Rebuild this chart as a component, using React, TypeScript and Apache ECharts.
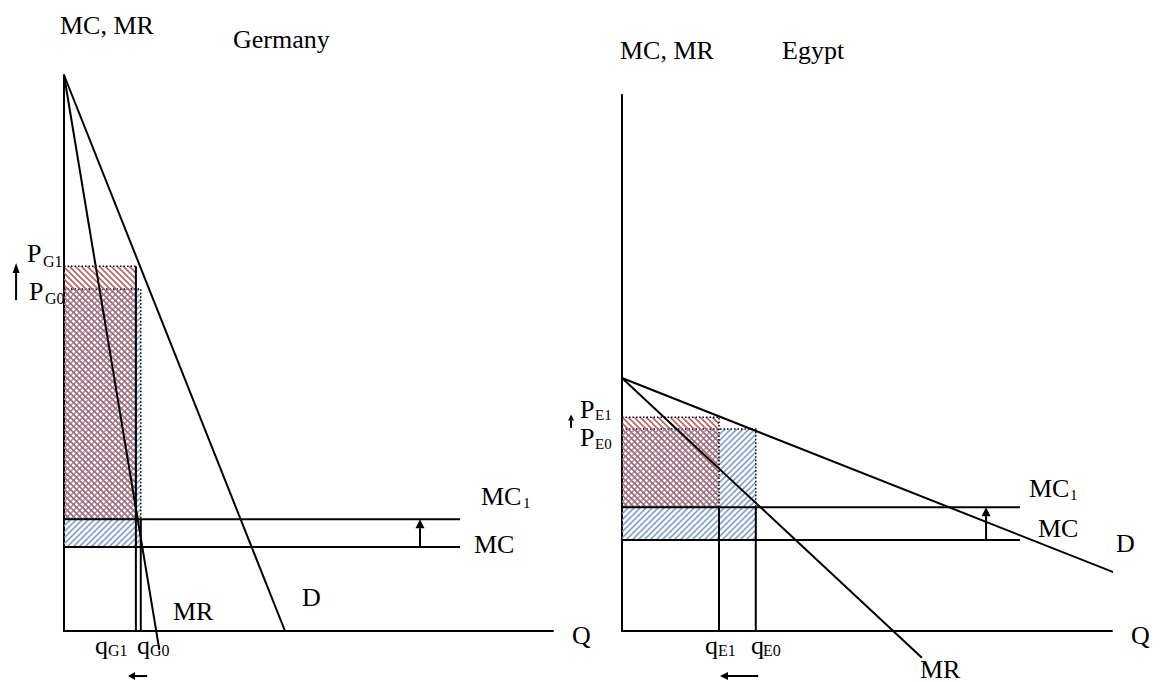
import React, { useEffect, useRef } from "react";
import * as echarts from "echarts";

// ---------- Germany (diagram units: x 0..100, y 0..100) ----------
const G_DEMAND = [[0, 100], [45.2, 0]];
const G_MR = [[0, 100], [19.5, -3.4]];
const G_MC = 15.1;
const G_MC1 = 20.1;
const G_MC_END = 81;
const G_Q1 = 14.7;
const G_Q0 = 15.7;
const G_P1 = 65.6;
const G_P0 = 61.5;
// arrows [x1, y1, x2, y2, headLen, headHalfWidth]
const G_ARROWS = [
  [72.8, 15.1, 72.8, 20.1, 9, 4.5],
  [-9.8, 59.5, -9.8, 66.2, 10, 3.5],
  [17.0, -8.1, 13.1, -8.1, 7, 4],
];

// ---------- Egypt ----------
const E_DEMAND = [[0, 47.2], [102.7, 10.1]];
const E_MR = [[0, 47.2], [61.2, -5.0]];
const E_MC = 17.0;
const E_MC1 = 23.1;
const E_MC_END = 81.2;
const E_Q1 = 19.8;
const E_Q0 = 27.3;
const E_P1 = 39.9;
const E_P0 = 37.7;
const E_ARROWS = [
  [74.3, 17.0, 74.3, 23.1, 9, 4.5],
  [-10.4, 37.9, -10.4, 40.4, 6, 3],
  [27.8, -8.4, 20.0, -8.4, 8, 4],
];

// texts: [text, x, y, fontSize]
const LABELS: [string, number, number, number][] = [
  ["MC, MR", 60, 25, 26],
  ["Germany", 233, 39, 26],
  ["P", 27, 253, 26], ["G1", 43, 261, 16],
  ["P", 29, 291, 26], ["G0", 45, 298, 16],
  ["MC", 481, 496, 26], ["1", 523, 503, 15],
  ["MC", 474, 544, 26],
  ["D", 302, 597, 26],
  ["MR", 173, 611, 26],
  ["Q", 572, 635, 26],
  ["q", 95, 645, 26], ["G1", 108, 650, 16],
  ["q", 137, 645, 26], ["G0", 150, 650, 16],
  ["MC, MR", 620, 50, 26],
  ["Egypt", 782, 50, 26],
  ["P", 580, 409, 26], ["E1", 595, 415, 15],
  ["P", 580, 437, 26], ["E0", 595, 444, 15],
  ["MC", 1029, 488, 26], ["1", 1070, 495, 15],
  ["MC", 1038, 528, 26],
  ["D", 1116, 543, 26],
  ["MR", 920, 669, 26],
  ["Q", 1131, 635, 26],
  ["q", 705, 645, 26], ["E1", 718, 650, 16],
  ["q", 751, 645, 26], ["E0", 763, 650, 16],
];

function makePattern(rgb: number[], dir: "down" | "up") {
  const s = 6;
  const c = document.createElement("canvas");
  c.width = s;
  c.height = s;
  const ctx = c.getContext("2d")!;
  const img = ctx.createImageData(s, s);
  for (let y = 0; y < s; y++) {
    for (let x = 0; x < s; x++) {
      const v = dir === "down" ? (((x - y) % s) + s) % s : (x + y) % s;
      const i = (y * s + x) * 4;
      if (v < 3) {
        img.data[i] = rgb[0];
        img.data[i + 1] = rgb[1];
        img.data[i + 2] = rgb[2];
        img.data[i + 3] = v === 1 ? 255 : 170;
      } else {
        img.data[i + 3] = 0;
      }
    }
  }
  ctx.putImageData(img, 0, 0);
  return { image: c.toDataURL(), imageWidth: s, imageHeight: s, repeat: "repeat" };
}

function seg(data: number[][], idx: number, dotted = false) {
  return {
    type: "line",
    xAxisIndex: idx,
    yAxisIndex: idx,
    data,
    symbol: "none",
    showSymbol: false,
    clip: false,
    silent: true,
    z: 3,
    lineStyle: dotted
      ? { color: "#000", width: 1.5, type: [1.5, 2] }
      : { color: "#000", width: 2, type: "solid" },
  };
}

export default function App() {
  const ref = useRef<HTMLDivElement>(null);
  useEffect(() => {
    if (!ref.current) return;
    const chart = echarts.init(ref.current, null, { renderer: "svg" });
    const redPat = makePattern([184, 96, 96], "down");
    const bluePat = makePattern([130, 160, 205], "up");

    const axisBase = {
      type: "value",
      min: 0,
      max: 100,
      axisLine: { show: true, onZero: false, lineStyle: { color: "#000", width: 2 } },
      axisTick: { show: false },
      axisLabel: { show: false },
      splitLine: { show: false },
    };

    const rectSeries = (idx: number, rects: number[][]) => ({
      type: "custom",
      xAxisIndex: idx,
      yAxisIndex: idx,
      clip: false,
      silent: true,
      z: 1,
      data: rects,
      renderItem: (_p: any, api: any) => {
        const a = api.coord([api.value(0), api.value(3)]);
        const b = api.coord([api.value(2), api.value(1)]);
        const kind = api.value(4);
        return {
          type: "rect",
          shape: { x: a[0], y: a[1], width: b[0] - a[0], height: b[1] - a[1] },
          style: {
            fill: kind === 0 ? redPat : bluePat,
            stroke: "#000",
            lineWidth: 1.5,
            lineDash: [1.5, 2],
          },
        };
      },
    });

    const arrowSeries = (idx: number, arrows: number[][]) => ({
      type: "custom",
      xAxisIndex: idx,
      yAxisIndex: idx,
      clip: false,
      silent: true,
      z: 4,
      data: arrows,
      renderItem: (_p: any, api: any) => {
        const p1 = api.coord([api.value(0), api.value(1)]);
        const p2 = api.coord([api.value(2), api.value(3)]);
        const hl = api.value(4);
        const hw = api.value(5);
        const dx = p2[0] - p1[0];
        const dy = p2[1] - p1[1];
        const len = Math.hypot(dx, dy) || 1;
        const ux = dx / len;
        const uy = dy / len;
        const base = [p2[0] - ux * hl, p2[1] - uy * hl];
        const l = [base[0] - uy * hw, base[1] + ux * hw];
        const r = [base[0] + uy * hw, base[1] - ux * hw];
        return {
          type: "group",
          children: [
            {
              type: "line",
              shape: { x1: p1[0], y1: p1[1], x2: base[0], y2: base[1] },
              style: { stroke: "#000", lineWidth: 2 },
            },
            {
              type: "polygon",
              shape: { points: [p2, l, r] },
              style: { fill: "#000" },
            },
          ],
        };
      },
    });

    const series: any[] = [
      // Germany
      rectSeries(0, [
        [0, G_MC, G_Q0, G_P0, 1],
        [0, G_MC1, G_Q1, G_P1, 0],
      ]),
      seg(G_DEMAND, 0),
      seg(G_MR, 0),
      seg([[0, G_MC], [G_MC_END, G_MC]], 0),
      seg([[0, G_MC1], [G_MC_END, G_MC1]], 0),
      seg([[G_Q1, 0], [G_Q1, G_P1]], 0),
      seg([[G_Q0, 0], [G_Q0, G_MC1]], 0),
      arrowSeries(0, G_ARROWS),
      // Egypt
      rectSeries(1, [
        [0, E_MC, E_Q0, E_P0, 1],
        [0, E_MC1, E_Q1, E_P1, 0],
      ]),
      seg(E_DEMAND, 1),
      seg(E_MR, 1),
      seg([[0, E_MC], [E_MC_END, E_MC]], 1),
      seg([[0, E_MC1], [E_MC_END, E_MC1]], 1),
      seg([[E_Q1, 0], [E_Q1, E_MC1]], 1),
      seg([[E_Q0, 0], [E_Q0, E_MC1]], 1),
      arrowSeries(1, E_ARROWS),
    ];

    chart.setOption({
      animation: false,
      backgroundColor: "#fff",
      grid: [
        { left: 64, top: 75, width: 489, height: 556 },
        { left: 622, top: 95, width: 490, height: 536 },
      ],
      xAxis: [
        { ...axisBase, gridIndex: 0 },
        { ...axisBase, gridIndex: 1 },
      ],
      yAxis: [
        { ...axisBase, gridIndex: 0 },
        { ...axisBase, gridIndex: 1 },
      ],
      series,
      graphic: LABELS.map(([t, x, y, s]) => ({
        type: "text",
        x,
        y,
        silent: true,
        z: 10,
        style: {
          text: t,
          fontSize: s,
          fontFamily: "Liberation Serif",
          fill: "#000",
          align: "left",
          verticalAlign: "middle",
        },
      })),
    });
    return () => chart.dispose();
  }, []);

  return (
    <div
      ref={ref}
      style={{ position: "absolute", left: 0, top: 0, width: 1160, height: 682, background: "#fff" }}
    />
  );
}
